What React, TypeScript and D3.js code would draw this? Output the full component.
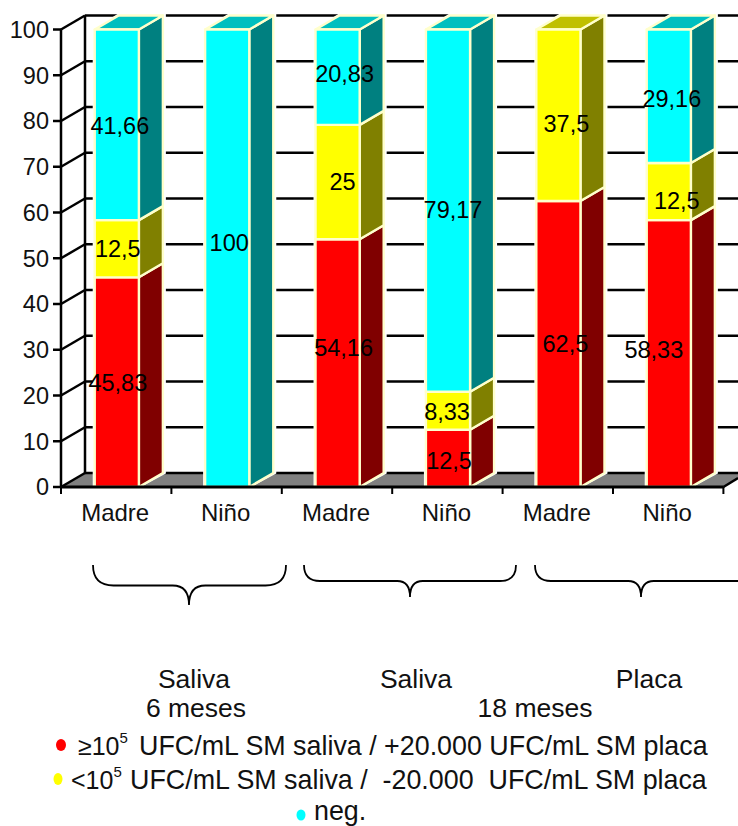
import React from "react";
import * as d3 from "d3";

// Share of samples (%) per subject group, stacked bottom to top
const groups = ["Madre", "Niño", "Madre", "Niño", "Madre", "Niño"];
const highCounts = [45.83, 0, 54.16, 12.5, 62.5, 58.33];
const lowCounts = [12.5, 0, 25, 8.33, 37.5, 12.5];
const negative = [41.66, 100, 20.83, 79.17, 0, 29.16];
const valueTicks = [0, 10, 20, 30, 40, 50, 60, 70, 80, 90, 100];

// Hand placement of the value labels, relative to each segment's centre
const highNudge = [[1, 0], [0, 0], [6, -16], [1, 2], [7, 0], [-15, -4]];
const lowNudge = [[1, 0], [0, 0], [5, 0], [-1, 1], [8, 8], [8, 9]];
const negNudge = [[3, 1], [2, -16], [7, -4], [5, -1], [0, 0], [3, 2]];

const palette = [
  { values: highCounts, nudge: highNudge, front: "#ff0000", side: "#800000", top: "#c00000" },
  { values: lowCounts, nudge: lowNudge, front: "#ffff00", side: "#808000", top: "#c0c000" },
  { values: negative, nudge: negNudge, front: "#00ffff", side: "#008080", top: "#00bfbf" },
];

const FONT = "Arial, 'Liberation Sans', sans-serif";
const EDGE = "#ffffcc";
const DX = 24;
const DY = -14;

const x = d3.scaleBand<number>().domain(d3.range(groups.length)).range([61, 723.4]).paddingInner(0.6).paddingOuter(0.3);
const y = d3.scaleLinear().domain([0, 100]).range([487, 29.5]);
const step = x.step();
const pts = (p: number[][]) => p.map((c) => c.join(",")).join(" ");

// Curly bracket under a run of bars: opens upward, tip pointing down
function Brace({ x0, x1, tip, top, mid, end }: { x0: number; x1: number; tip: number; top: number; mid: number; end: number }) {
  const r = mid - top;
  const d = d3.path();
  d.moveTo(x0, top);
  d.quadraticCurveTo(x0, mid, x0 + r, mid);
  d.lineTo(tip - r * 0.8, mid);
  d.quadraticCurveTo(tip, mid, tip, end);
  d.quadraticCurveTo(tip, mid, tip + r * 0.8, mid);
  d.lineTo(x1 - r, mid);
  d.quadraticCurveTo(x1, mid, x1, top);
  return <path d={d.toString()} fill="none" stroke="#000" strokeWidth={1.8} />;
}

export default function App() {
  const right = x.range()[1];
  const labels: React.ReactNode[] = [];
  const bars = groups.map((_, i) => {
    let acc = 0;
    const bx = x(i)! + 0.6;
    const w = x.bandwidth();
    const segs = palette.map((s, k) => {
      const v = s.values[i];
      if (!v) return null;
      const y0 = y(acc);
      const y1 = y(acc + v);
      acc += v;
      const isTop = !palette.slice(k + 1).some((o) => o.values[i] > 0);
      const [nx, ny] = s.nudge[i];
      labels.push(
        <text key={`${i}-${k}`} x={bx + w / 2 + nx} y={(y0 + y1) / 2 + ny} dy="0.36em" textAnchor="middle" fontSize={23.5} fill="#000">
          {String(v).replace(".", ",")}
        </text>
      );
      return (
        <g key={k} stroke={EDGE} strokeWidth={2.4} strokeLinejoin="round">
          <polygon points={pts([[bx + w, y0], [bx + w + DX, y0 + DY], [bx + w + DX, y1 + DY], [bx + w, y1]])} fill={s.side} />
          {isTop && <polygon points={pts([[bx, y1], [bx + DX, y1 + DY], [bx + w + DX, y1 + DY], [bx + w, y1]])} fill={s.top} />}
          <rect x={bx} y={y1} width={w} height={y0 - y1} fill={s.front} />
        </g>
      );
    });
    return (
      <g key={i}>
        <polygon
          points={pts([[bx - 1, y(0)], [bx - 1, y(acc)], [bx + DX, y(acc) + DY - 1], [bx + w + DX + 2, y(acc) + DY - 1], [bx + w + DX + 2, y(0) + DY], [bx + w, y(0)]])}
          fill="#fff"
          stroke="#fff"
          strokeWidth={2}
        />
        {segs}
      </g>
    );
  });

  return (
    <svg width={738} height={826} style={{ position: "absolute", left: 0, top: 0 }} fontFamily={FONT}>
      <rect width={738} height={826} fill="#fff" />

      {/* floor */}
      <polygon points={pts([[61, y(0)], [61 + DX, y(0) + DY], [738, y(0) + DY], [738, y(0) - 9], [right, y(0)]])} fill="#808080" />
      <line x1={61 + DX} x2={738} y1={y(0) + DY} y2={y(0) + DY} stroke="#000" strokeWidth={2.5} />
      <line x1={right} x2={738} y1={y(0)} y2={y(0) - 9} stroke="#000" strokeWidth={2.5} />

      {/* back wall grid */}
      {valueTicks.slice(1).map((t) => (
        <line key={t} x1={61 + DX} x2={738} y1={y(t) + DY} y2={y(t) + DY} stroke="#000" strokeWidth={2.5} />
      ))}
      <line x1={61 + DX} x2={61 + DX} y1={y(100) + DY} y2={y(0) + DY} stroke="#000" strokeWidth={2.5} />

      {/* value axis */}
      {valueTicks.map((t) => (
        <g key={t}>
          <line x1={61} x2={61 + DX} y1={y(t)} y2={y(t) + DY} stroke="#000" strokeWidth={2.5} />
          <line x1={53} x2={61} y1={y(t)} y2={y(t)} stroke="#000" strokeWidth={2.5} />
          <text x={49} y={y(t)} dy="0.36em" textAnchor="end" fontSize={23.5} fill="#111">{t}</text>
        </g>
      ))}
      <line x1={61} x2={61} y1={y(100)} y2={y(0)} stroke="#000" strokeWidth={2.5} />

      {bars}

      {/* category axis */}
      <line x1={60} x2={right} y1={y(0)} y2={y(0)} stroke="#000" strokeWidth={3} />
      {d3.range(groups.length + 1).map((i) => (
        <line key={i} x1={61 + i * step} x2={61 + i * step} y1={y(0)} y2={y(0) + 7} stroke="#000" strokeWidth={2} />
      ))}
      {groups.map((g, i) => (
        <text key={i} x={61 + (i + 0.5) * step - 1} y={521} textAnchor="middle" fontSize={24} fill="#111">{g}</text>
      ))}

      {labels}

      <Brace x0={93} x1={286} tip={189} top={565} mid={585.5} end={605} />
      <Brace x0={304} x1={516} tip={410} top={565} mid={581} end={597} />
      <Brace x0={535} x1={760} tip={641} top={565} mid={581} end={597} />

      {/* annotations below the brackets */}
      <g fontSize={26.5} fill="#111" textAnchor="middle">
        <text x={194} y={688}>Saliva</text>
        <text x={416} y={688}>Saliva</text>
        <text x={649} y={688}>Placa</text>
        <text x={196} y={717}>6 meses</text>
        <text x={535} y={717}>18 meses</text>
      </g>

      {/* legend */}
      <ellipse cx={61} cy={745} rx={5} ry={6} fill="#ff0000" />
      <ellipse cx={58} cy={779} rx={4.5} ry={6} fill="#ffff00" />
      <ellipse cx={301} cy={815} rx={4.5} ry={5.5} fill="#00ffff" />
      <g fontSize={26.85} fill="#111">
        <text x={78} y={755}>
          <tspan fontSize={25}>≥10</tspan>
          <tspan fontSize={15} dy={-12}>5</tspan>
          <tspan dy={12} x={139}>UFC/mL SM saliva / +20.000 UFC/mL SM placa</tspan>
        </text>
        <text x={71} y={789}>
          <tspan fontSize={25}>&lt;10</tspan>
          <tspan fontSize={15} dy={-12}>5</tspan>
          <tspan dy={12} x={130}>{"UFC/mL SM saliva /\u00A0\u00A0-20.000\u00A0\u00A0UFC/mL SM placa"}</tspan>
        </text>
        <text x={314} y={820}>neg.</text>
      </g>
    </svg>
  );
}
